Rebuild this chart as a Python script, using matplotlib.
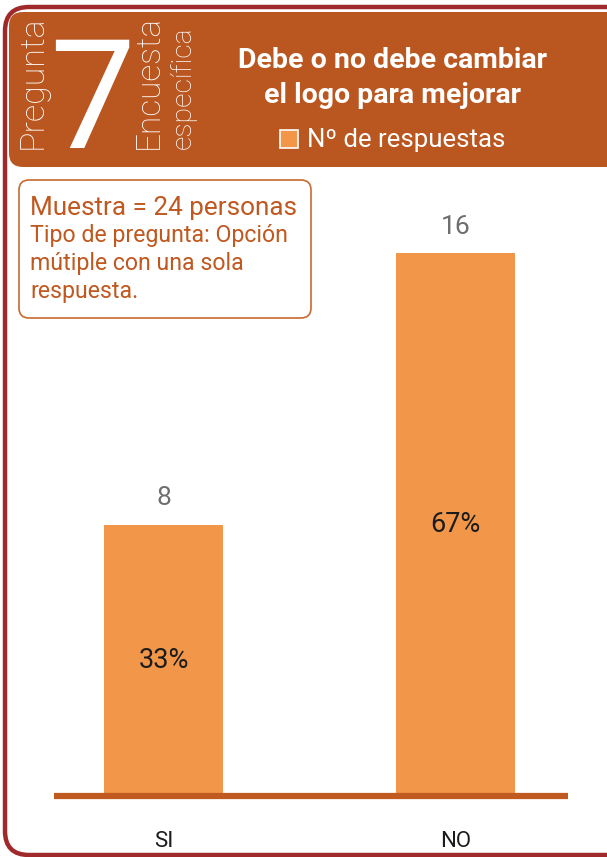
import matplotlib
matplotlib.use("Agg")
import matplotlib.pyplot as plt
from matplotlib.patches import FancyBboxPatch, Rectangle
from matplotlib import font_manager

# data
categories = ["SI", "NO"]
responses = [8, 16]
percent_labels = ["33%", "67%"]
total = 24

title_lines = ["Debe o no debe cambiar", "el logo para mejorar"]
legend_label = "Nº de respuestas"
info_lines = ["Tipo de pregunta: Opción", "mútiple con una sola", "respuesta."]

HEADER = "#ba5720"
BORDER = "#a0292b"
BAR = "#f2974a"
BASE = "#c05a20"
BOXTXT = "#c0581f"

names = {f.name for f in font_manager.fontManager.ttflist}
FONT = "Roboto" if "Roboto" in names else "DejaVu Sans"
NARROW = "Liberation Sans Narrow" if "Liberation Sans Narrow" in names else FONT
plt.rcParams["font.family"] = [FONT, "DejaVu Sans"]

W, H = 607, 857
fig = plt.figure(figsize=(W / 100, H / 100), dpi=100)

# overlay in pixel coordinates for the frame and header
bg = fig.add_axes([0, 0, 1, 1], zorder=0)
bg.set_xlim(0, W)
bg.set_ylim(H, 0)
bg.axis("off")

bg.add_patch(FancyBboxPatch((5, 7), 640, 848, boxstyle="round,pad=0,rounding_size=24",
                            fc="white", ec=BORDER, lw=3.2))
bg.add_patch(FancyBboxPatch((9, 12), 640, 155, boxstyle="round,pad=0,rounding_size=14",
                            fc=HEADER, ec="none"))

bg.text(33, 149, "Pregunta", rotation=90, ha="center", va="bottom", color="white",
        fontsize=24.5, fontweight="light")
bg.text(92, 148, "7", ha="center", va="baseline", color="white", fontsize=110,
        family=NARROW)
bg.text(149, 149, "Encuesta", rotation=90, ha="center", va="bottom", color="white",
        fontsize=24, fontweight="light")
bg.text(183, 149, "específica", rotation=90, ha="center", va="bottom", color="white",
        fontsize=20.5, fontweight="light")

bg.text(392, 68, title_lines[0], ha="center", va="baseline", color="white",
        fontsize=20.5, fontweight="bold")
bg.text(392, 103, title_lines[1], ha="center", va="baseline", color="white",
        fontsize=20.5, fontweight="bold")
bg.add_patch(Rectangle((280, 130), 18, 18, fc=BAR, ec="white", lw=1.2))
bg.text(307, 147, legend_label, ha="left", va="baseline", color="white", fontsize=18.5)

# info box
bg.add_patch(FancyBboxPatch((19, 180), 292, 138, boxstyle="round,pad=0,rounding_size=10",
                            fc="white", ec="#c86a30", lw=1.2))
bg.text(30, 215, f"Muestra = {total} personas", ha="left", va="baseline",
        color=BOXTXT, fontsize=18.8)
for i, line in enumerate(info_lines):
    bg.text(30, 242 + i * 28, line, ha="left", va="baseline", color=BOXTXT, fontsize=16.7)

# bar chart
ax = fig.add_axes([54 / W, (H - 796) / H, 514 / W, 616 / H], zorder=1)
ax.patch.set_visible(False)
x = list(range(len(categories)))
ax.bar(x, responses, width=0.408, color=BAR)
ax.set_xlim(-0.375, 1.385)
ax.set_ylim(0, 16 * 616 / 543)
ax.plot([-0.375, 1.385], [0, 0], color=BASE, lw=4.5, solid_capstyle="butt", clip_on=False)
for xi, v, p in zip(x, responses, percent_labels):
    ax.annotate(str(v), (xi, v), xytext=(0, 19), textcoords="offset points",
                ha="center", va="center", color="#6e6e6e", fontsize=19)
    ax.text(xi, v / 2, p, ha="center", va="center", color="#1c1c1c", fontsize=19.5)
ax.set_xticks(x, categories)
ax.tick_params(axis="x", length=0, pad=25, labelsize=16, labelcolor="#1c1c1c")
ax.set_yticks([])
for s in ax.spines.values():
    s.set_visible(False)

fig.savefig("out.png", dpi=100)
